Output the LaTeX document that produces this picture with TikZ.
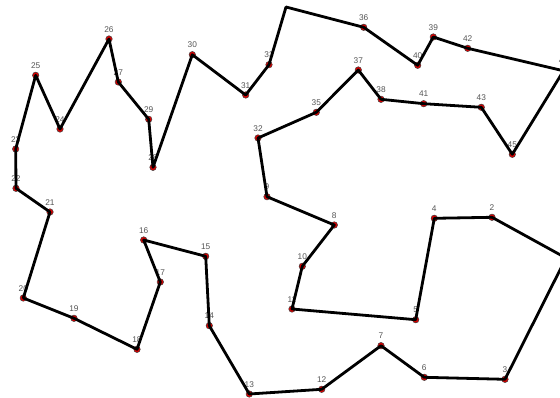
\documentclass[tikz,border=0pt]{standalone}
\usepackage{fontspec}
\setmainfont{Liberation Sans}
\definecolor{dotred}{RGB}{220,0,0}
\definecolor{labgray}{RGB}{85,85,85}
\tikzset{
  dot/.style={circle,fill=dotred,draw=black!75,line width=0.5pt,minimum size=6.5pt,inner sep=0pt},
  lab/.style={inner sep=0pt,text=labgray,font=\fontsize{8.3}{9}\selectfont},
  tour/.style={line width=2.8pt,black,line join=round,line cap=round}
}
\begin{document}
\begin{tikzpicture}[x=1pt,y=-1pt]
\clip (0,0) rectangle (560,398);
\fill[white] (0,0) rectangle (560,398);
\foreach \n/\x/\y in {1/566/258,2/492/217.3,3/505/379.3,4/434.3/218.3,5/415.7/319.7,
  6/424.3/377.3,7/381/345.7,8/334.3/225,9/267/196.7,10/302.3/266.3,11/292/309,
  12/321.7/389.3,13/249.3/394,14/209.3/325.7,15/205.7/256.3,16/143.7/240,
  17/160.3/282,18/137/349.3,19/74/318.3,20/23.3/298,21/50/212,22/16/188.3,
  23/15.7/149,24/60/129,25/35.7/75.3,26/109/39,27/118.3/82,28/153/167.3,
  29/148.7/119.3,30/192.3/54.7,31/245.7/95,32/258/138,33/269/64.7,
  35/316.3/112.3,36/363.7/27.3,37/358.3/70,38/381/99.3,39/433.3/37,
  40/417.7/65.3,41/423.7/103.7,42/467.7/48.3,43/481.3/107.3,44/563.5/70.8,
  45/512.3/154.3}{
  \node[lab] (l\n) at (\x,\y-9.7) {\n};
  \node[dot] (n\n) at (\x,\y) {};
}
\coordinate (n34) at (286,7);
\draw[tour] (n1.center) -- (n2.center) -- (n4.center) -- (n5.center) -- (n11.center)
  -- (n10.center) -- (n8.center) -- (n9.center) -- (n32.center) -- (n35.center)
  -- (n37.center) -- (n38.center) -- (n41.center) -- (n43.center) -- (n45.center)
  -- (n44.center) -- (n42.center) -- (n39.center) -- (n40.center) -- (n36.center)
  -- (n34) -- (n33.center) -- (n31.center) -- (n30.center) -- (n28.center)
  -- (n29.center) -- (n27.center) -- (n26.center) -- (n24.center) -- (n25.center)
  -- (n23.center) -- (n22.center) -- (n21.center) -- (n20.center) -- (n19.center)
  -- (n18.center) -- (n17.center) -- (n16.center) -- (n15.center) -- (n14.center)
  -- (n13.center) -- (n12.center) -- (n7.center) -- (n6.center) -- (n3.center)
  -- (n1.center);
\end{tikzpicture}
\end{document}
